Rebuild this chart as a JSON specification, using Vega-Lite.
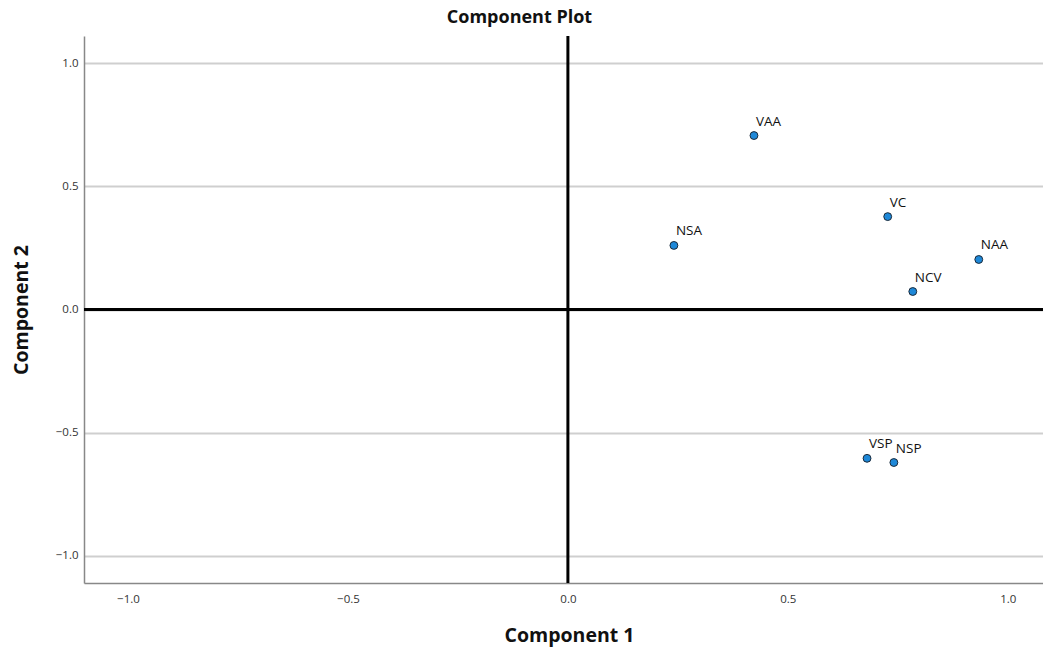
{
  "$schema": "https://vega.github.io/schema/vega-lite/v6.json",
  "width": 959,
  "height": 547,
  "autosize": {"type": "none"},
  "padding": {"left": 84, "top": 36, "right": 0, "bottom": 67},
  "background": "white",
  "title": {"text": "Component Plot", "fontSize": 18, "font": "Open Sans", "fontWeight": "bold", "color": "#111", "dx": -44, "offset": 8},
  "config": {
    "view": {"stroke": null},
    "axis": {"labelFont": "Open Sans", "titleFont": "Open Sans", "labelColor": "#333", "titleColor": "#111"}
  },
  "layer": [
    {
      "data": {"values": [{"zero": 0}]},
      "mark": {"type": "rule", "color": "black", "strokeWidth": 3},
      "encoding": {"x": {"field": "zero", "type": "quantitative", "scale": {"domain": [-1.1, 1.08]}}}
    },
    {
      "data": {"values": [{"zero": 0}]},
      "mark": {"type": "rule", "color": "black", "strokeWidth": 3},
      "encoding": {"y": {"field": "zero", "type": "quantitative", "scale": {"domain": [-1.11, 1.11]}}}
    },
    {
      "data": {"values": [
        {"name": "VAA", "c1": 0.423, "c2": 0.706},
        {"name": "VC", "c1": 0.727, "c2": 0.377},
        {"name": "NSA", "c1": 0.241, "c2": 0.260},
        {"name": "NAA", "c1": 0.934, "c2": 0.203},
        {"name": "NCV", "c1": 0.784, "c2": 0.073},
        {"name": "VSP", "c1": 0.680, "c2": -0.604},
        {"name": "NSP", "c1": 0.741, "c2": -0.621}
      ]},
      "encoding": {
        "x": {"field": "c1", "type": "quantitative", "title": "Component 1",
          "scale": {"domain": [-1.1, 1.08], "nice": false, "zero": false},
          "axis": {"values": [-1, -0.5, 0, 0.5, 1], "format": ".1f", "grid": false, "ticks": false, "domainColor": "#888", "domainWidth": 1.5, "labelFontSize": 11.5, "labelPadding": 10, "titleFontSize": 19.5, "titleFontWeight": "bold", "titlePadding": 22, "titleX": 485}},
        "y": {"field": "c2", "type": "quantitative", "title": "Component 2",
          "scale": {"domain": [-1.11, 1.11], "nice": false, "zero": false},
          "axis": {"values": [-1, -0.5, 0, 0.5, 1], "format": ".1f", "grid": true, "gridColor": "#cfcfcf", "gridWidth": 2, "ticks": false, "domainColor": "#888", "domainWidth": 1.5, "labelFontSize": 11.5, "labelPadding": 6, "titleFontSize": 19.5, "titleFontWeight": "bold", "titlePadding": 24}}
      },
      "layer": [
        {"mark": {"type": "point", "shape": "circle", "filled": true, "size": 62, "fill": "#1e88d8", "stroke": "#1b2a3a", "strokeWidth": 1, "opacity": 1}},
        {"mark": {"type": "text", "align": "left", "baseline": "alphabetic", "dx": 2, "dy": -10, "fontSize": 13.5, "font": "Open Sans", "color": "#111"},
          "encoding": {"text": {"field": "name"}}}
      ]
    }
  ]
}
